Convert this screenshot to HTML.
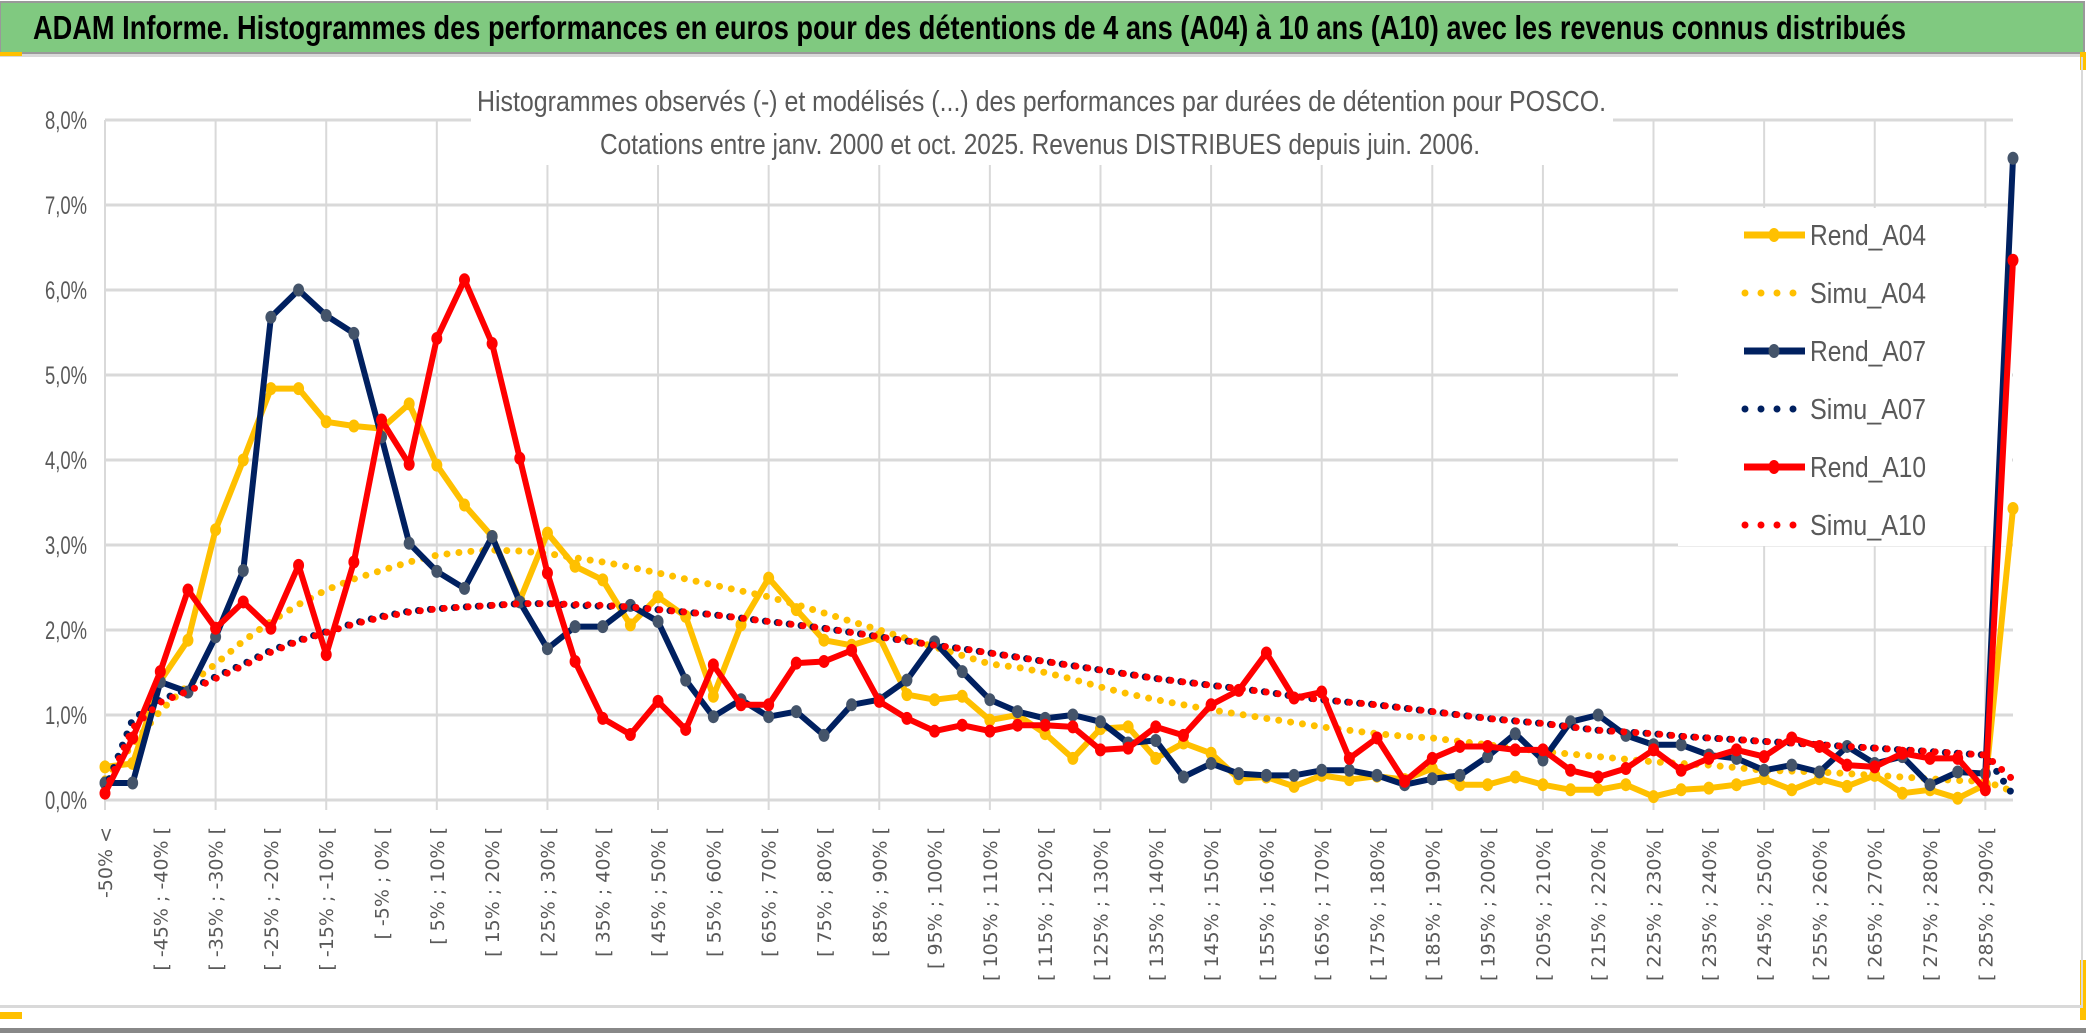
<!DOCTYPE html>
<html><head><meta charset="utf-8"><style>
html,body{margin:0;padding:0;background:#fff;}
svg{display:block;font-family:"Liberation Sans",sans-serif;}
</style></head><body>
<svg id="chart" width="2086" height="1033" viewBox="0 0 2086 1033">
<rect x="0" y="0" width="2086" height="1033" fill="#fff"/>
<rect x="0" y="2" width="2084" height="51" fill="#80c980" stroke="#999" stroke-width="2"/>
<text x="33" y="39" font-size="33" font-weight="bold" fill="#000" textLength="1873" lengthAdjust="spacingAndGlyphs">ADAM Informe. Histogrammes des performances en euros pour des détentions de 4 ans (A04) à 10 ans (A10) avec les revenus connus distribués</text>
<rect x="0" y="54" width="2082" height="3" fill="#d9d9d9"/>
<rect x="0" y="52" width="22" height="4" fill="#ffc000"/>
<rect x="2080" y="52" width="6" height="18" fill="#ffc000"/>
<rect x="0" y="1012" width="22" height="7" fill="#ffc000"/>
<rect x="2080" y="960" width="6" height="60" fill="#ffc000"/>
<rect x="0" y="1005" width="2082" height="3" fill="#d9d9d9"/>
<rect x="0" y="1028" width="2086" height="5" fill="#888"/>
<line x1="2082" y1="57" x2="2082" y2="1008" stroke="#d9d9d9" stroke-width="2"/>
<g id="grid"></g>
<g id="ylabels"></g>
<g id="xlabels"></g>
<rect x="471" y="60" width="1142" height="105" fill="#fff"/>
<text x="477" y="111" font-size="29" fill="#595959" textLength="1129" lengthAdjust="spacingAndGlyphs">Histogrammes observés (-) et modélisés (...) des performances par durées de détention pour POSCO.</text>
<text x="600" y="154" font-size="29" fill="#595959" textLength="880" lengthAdjust="spacingAndGlyphs">Cotations entre janv. 2000 et oct. 2025. Revenus DISTRIBUES depuis juin. 2006.</text>
<rect x="1678" y="208" width="334" height="338" fill="#fff"/>
<g id="series"></g>
<g id="legend"></g>
</svg>
<script>
const categories = ["-50% <"];
for (let i = 1; i < 70; i++) { const a = -50 + 5 * (i - 1); categories.push("[ " + a + "% ; " + (a + 5) + "% ["); }
const yTicks = [0,1,2,3,4,5,6,7,8];
const yTickLabels = ["0,0%","1,0%","2,0%","3,0%","4,0%","5,0%","6,0%","7,0%","8,0%"];
const rendA04 = [0.39,0.43,1.4,1.88,3.18,4.0,4.84,4.84,4.45,4.4,4.37,4.66,3.94,3.47,3.1,2.35,3.14,2.75,2.59,2.06,2.39,2.16,1.22,2.06,2.61,2.24,1.88,1.82,1.92,1.24,1.18,1.22,0.94,1.0,0.78,0.49,0.84,0.86,0.49,0.67,0.55,0.25,0.27,0.16,0.29,0.24,0.28,0.24,0.37,0.18,0.18,0.27,0.18,0.12,0.12,0.18,0.04,0.12,0.14,0.18,0.25,0.12,0.25,0.16,0.29,0.08,0.12,0.02,0.18,3.43];
const rendA07 = [0.2,0.2,1.39,1.27,1.92,2.7,5.68,6.0,5.7,5.49,4.27,3.02,2.69,2.49,3.1,2.33,1.78,2.04,2.04,2.29,2.1,1.41,0.98,1.18,0.98,1.04,0.76,1.12,1.18,1.41,1.86,1.51,1.18,1.04,0.96,1.0,0.92,0.67,0.7,0.27,0.43,0.31,0.29,0.29,0.35,0.35,0.29,0.18,0.25,0.29,0.51,0.78,0.47,0.92,1.0,0.76,0.65,0.65,0.53,0.49,0.35,0.41,0.33,0.63,0.43,0.51,0.18,0.33,0.31,7.55];
const rendA10 = [0.08,0.73,1.51,2.47,2.02,2.33,2.02,2.76,1.71,2.8,4.47,3.95,5.43,6.12,5.37,4.02,2.67,1.63,0.96,0.77,1.16,0.83,1.59,1.12,1.12,1.61,1.63,1.76,1.16,0.96,0.81,0.88,0.81,0.88,0.88,0.86,0.59,0.61,0.86,0.76,1.12,1.29,1.73,1.2,1.27,0.49,0.73,0.22,0.49,0.63,0.63,0.59,0.59,0.35,0.27,0.37,0.59,0.35,0.49,0.59,0.51,0.73,0.63,0.41,0.39,0.55,0.49,0.49,0.12,6.35];
const simuA04 = [0.25,0.65,1.05,1.35,1.6,1.87,2.1,2.3,2.47,2.6,2.7,2.8,2.88,2.92,2.94,2.93,2.9,2.85,2.8,2.74,2.67,2.6,2.53,2.46,2.39,2.3,2.2,2.1,2.0,1.9,1.8,1.7,1.6,1.56,1.5,1.42,1.33,1.25,1.18,1.12,1.06,1.01,0.96,0.91,0.86,0.82,0.78,0.75,0.73,0.69,0.65,0.61,0.57,0.54,0.51,0.48,0.45,0.43,0.41,0.38,0.35,0.34,0.33,0.31,0.29,0.27,0.25,0.23,0.22,0.1];
const simuA07 = [0.12,0.95,1.18,1.3,1.45,1.6,1.76,1.88,1.98,2.08,2.16,2.22,2.25,2.27,2.29,2.31,2.31,2.29,2.28,2.27,2.24,2.21,2.18,2.14,2.1,2.06,2.02,1.97,1.92,1.87,1.82,1.78,1.73,1.68,1.63,1.58,1.53,1.48,1.43,1.39,1.35,1.31,1.27,1.22,1.18,1.15,1.12,1.08,1.04,1.0,0.96,0.93,0.9,0.86,0.82,0.8,0.78,0.75,0.73,0.71,0.69,0.67,0.65,0.63,0.61,0.59,0.57,0.55,0.53,0.06];
const simuA10 = [0.1,0.85,1.15,1.28,1.43,1.58,1.74,1.87,1.97,2.07,2.15,2.21,2.25,2.27,2.29,2.31,2.31,2.3,2.29,2.27,2.24,2.21,2.18,2.14,2.1,2.06,2.02,1.97,1.92,1.87,1.82,1.78,1.73,1.68,1.63,1.58,1.53,1.48,1.43,1.39,1.35,1.31,1.27,1.22,1.18,1.15,1.12,1.08,1.04,1.0,0.96,0.93,0.9,0.86,0.82,0.8,0.78,0.75,0.73,0.71,0.69,0.67,0.65,0.63,0.61,0.59,0.57,0.55,0.53,0.24];

const NS = "http://www.w3.org/2000/svg";
const X0 = 105, X1 = 2013, Y0 = 800, PER = 85;
const xS = i => X0 + i * (X1 - X0) / (categories.length - 1);
const yS = v => Y0 - v * PER;
function mk(tag, attrs, parent) { const e = document.createElementNS(NS, tag); for (const k in attrs) e.setAttribute(k, attrs[k]); parent.appendChild(e); return e; }
const grid = document.getElementById("grid");
yTicks.forEach((t, k) => {
  const l = mk("line", {x1: X0, x2: X1, y1: yS(t), y2: yS(t), stroke: "#d9d9d9", "stroke-width": 3}, grid);
  
  
  const tx = mk("text", {x: 87, y: yS(t) + 9, "font-size": 25, fill: "#595959", "text-anchor": "end", textLength: 42, lengthAdjust: "spacingAndGlyphs"}, document.getElementById("ylabels"));
  tx.textContent = yTickLabels[k];
  
  
});
for (let i = 0; i < categories.length; i += 4) {
  const l = mk("line", {x1: xS(i), x2: xS(i), y1: yS(8), y2: Y0 + 10, stroke: "#d9d9d9", "stroke-width": 2}, grid);
  
  
}
categories.forEach((c, i) => {
  if (i % 2) return;
  const x = xS(i) + 7, y = 827;
  const tx = mk("text", {x: x, y: y, "font-size": 19, fill: "#595959", "text-anchor": "end", "font-family": "DejaVu Sans, sans-serif", transform: "rotate(-90 " + x + " " + y + ")"}, document.getElementById("xlabels"));
  tx.textContent = c;
  
  
});
const seriesG = document.getElementById("series");
function pts(vals) { return vals.map((v, i) => xS(i).toFixed(1) + "," + yS(v).toFixed(1)).join(" "); }
function solid(vals, color, marker, name) {
  const g = mk("g", {}, seriesG);
  
  
  const p = mk("polyline", {points: pts(vals), fill: "none", stroke: color, "stroke-width": 6, "stroke-linejoin": "round"}, g);
  
  
  vals.forEach((v, i) => {
    const c = mk("ellipse", {cx: xS(i), cy: yS(v), rx: 5.5, ry: 6.5, fill: marker}, g);
    
    
  });
}
function dotted(vals, color, name) {
  const p = mk("polyline", {points: pts(vals), fill: "none", stroke: color, "stroke-width": 7, "stroke-linecap": "round", "stroke-dasharray": "0 12"}, seriesG);
  
  
}
solid(rendA04, "#ffc000", "#ffc000", "rend-a04");
dotted(simuA04, "#ffc000", "simu-a04");
solid(rendA07, "#002060", "#44546a", "rend-a07");
dotted(simuA07, "#002060", "simu-a07");
solid(rendA10, "#ff0000", "#ff0000", "rend-a10");
dotted(simuA10, "#ff0000", "simu-a10");

const legendItems = [["Rend_A04","#ffc000","#ffc000",false],["Simu_A04","#ffc000","#ffc000",true],["Rend_A07","#002060","#44546a",false],["Simu_A07","#002060","#002060",true],["Rend_A10","#ff0000","#ff0000",false],["Simu_A10","#ff0000","#ff0000",true]];
const lg = document.getElementById("legend");
legendItems.forEach((it, k) => {
  const y = 235 + k * 58;
  const g = mk("g", {}, lg);
  
  
  if (it[3]) {
    mk("line", {x1: 1745, x2: 1800, y1: y, y2: y, stroke: it[1], "stroke-width": 7, "stroke-linecap": "round", "stroke-dasharray": "0 16"}, g);
  } else {
    mk("line", {x1: 1744, x2: 1805, y1: y, y2: y, stroke: it[1], "stroke-width": 7}, g);
    mk("ellipse", {cx: 1774, cy: y, rx: 5.5, ry: 7, fill: it[2]}, g);
  }
  const t = mk("text", {x: 1810, y: y + 10, "font-size": 29, fill: "#595959", textLength: 116, lengthAdjust: "spacingAndGlyphs"}, g);
  t.textContent = it[0];
});
</script>
</body></html>
